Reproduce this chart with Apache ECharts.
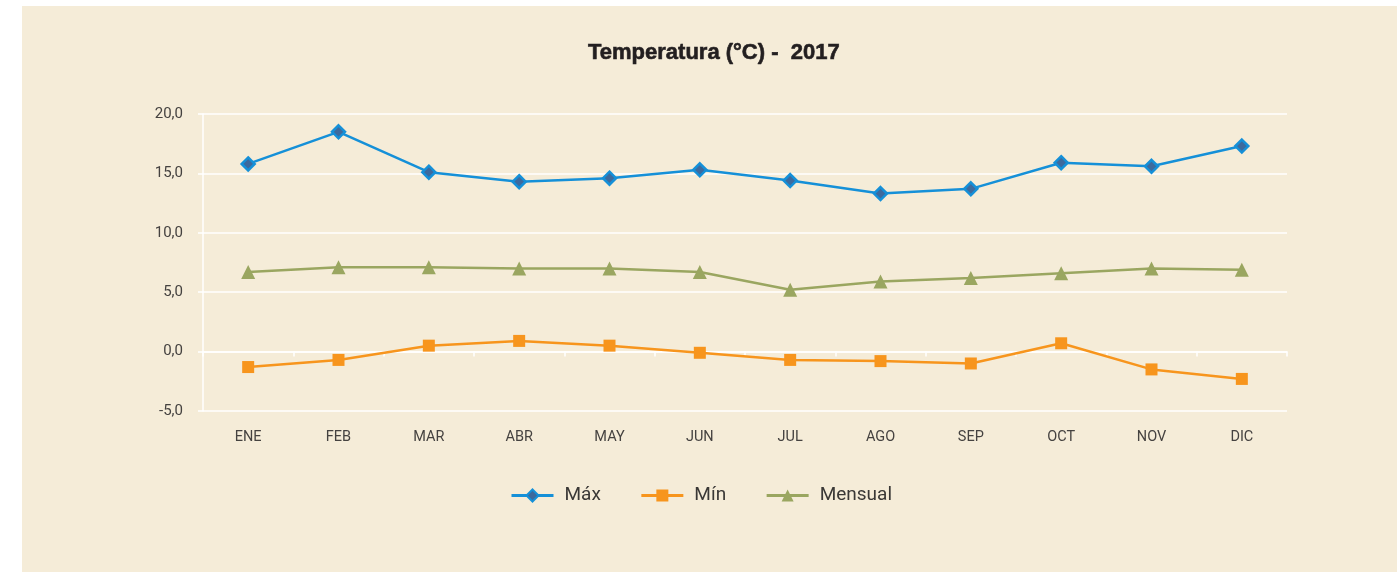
<!DOCTYPE html>
<html>
<head>
<meta charset="utf-8">
<script src="https://cdn.jsdelivr.net/npm/echarts@6/dist/echarts.min.js"></script>
<style>
  html, body { margin: 0; padding: 0; background: #ffffff; }
  #main {
    position: absolute;
    left: 22px; top: 6px;
    width: 1375px; height: 566px;
    background: #f5ecd8;
  }
</style>
</head>
<body>
<div id="main"></div>
<script>
// meses
const months = ['ENE', 'FEB', 'MAR', 'ABR', 'MAY', 'JUN', 'JUL', 'AGO', 'SEP', 'OCT', 'NOV', 'DIC']
// temperaturas 2017
const tMax = [15.8, 18.5, 15.1, 14.3, 14.6, 15.3, 14.4, 13.3, 13.7, 15.9, 15.6, 17.3]
const tMin = [-1.3, -0.7, 0.5, 0.9, 0.5, -0.1, -0.7, -0.8, -1.0, 0.7, -1.5, -2.3]
const tMensual = [6.7, 7.1, 7.1, 7.0, 7.0, 6.7, 5.2, 5.9, 6.2, 6.6, 7.0, 6.9]

const font = 'Roboto, "Liberation Sans", sans-serif'

const myChart = echarts.init(document.querySelector('#main'))
myChart.setOption({
  animation: false,
  title: {
    text: 'Temperatura (°C) -  2017',
    left: 561,
    top: 31,
    textStyle: {
      fontFamily: '"Liberation Sans", Arial, sans-serif',
      fontSize: 22,
      fontWeight: 'bold',
      color: '#231f20',
      textBorderColor: '#231f20',
      textBorderWidth: 0.6
    }
  },
  legend: {
    left: 483,
    top: 475,
    itemWidth: 42,
    itemHeight: 15,
    itemGap: 39,
    lineStyle: { width: 3 },
    textStyle: { fontFamily: font, fontSize: 19, color: '#3a3836', padding: [0, 0, 0, 6] },
    data: ['Máx', 'Mín', 'Mensual']
  },
  grid: { left: 181, right: 110, top: 108, bottom: 161 },
  xAxis: [
    {
      // etiquetas abajo
      type: 'category',
      data: months,
      position: 'bottom',
      axisLine: { show: false, onZero: false },
      axisTick: { show: false },
      axisLabel: { margin: 19, fontFamily: font, fontSize: 14.5, color: '#454240' }
    },
    {
      // línea en el cero con marcas
      type: 'category',
      data: months,
      position: 'bottom',
      axisLine: { show: true, onZero: true, lineStyle: { color: '#ffffff', width: 1.5 } },
      axisTick: { show: true, length: 5, lineStyle: { color: '#ffffff', width: 1.5 } },
      axisLabel: { show: false }
    }
  ],
  yAxis: {
    type: 'value',
    min: -5,
    max: 20,
    interval: 5,
    axisLine: { show: true, lineStyle: { color: '#ffffff', width: 1.5 } },
    axisTick: { show: true, length: 5, lineStyle: { color: '#ffffff', width: 1.5 } },
    axisLabel: {
      margin: 20,
      fontFamily: font,
      fontSize: 15,
      color: '#454240',
      formatter: v => v.toFixed(1).replace('.', ',')
    },
    splitLine: { lineStyle: { color: '#ffffff', width: 1.5 } }
  },
  series: [
    {
      name: 'Máx',
      type: 'line',
      data: tMax,
      symbol: 'diamond',
      symbolSize: 13,
      lineStyle: { color: '#1590d8', width: 2.5 },
      itemStyle: { color: '#3d6a9e', borderColor: '#1590d8', borderWidth: 2.5 }
    },
    {
      name: 'Mín',
      type: 'line',
      data: tMin,
      symbol: 'rect',
      symbolSize: 12,
      lineStyle: { color: '#f7951d', width: 2.5 },
      itemStyle: { color: '#f7951d' }
    },
    {
      name: 'Mensual',
      type: 'line',
      data: tMensual,
      symbol: 'triangle',
      symbolSize: 14,
      lineStyle: { color: '#9aa660', width: 2.5 },
      itemStyle: { color: '#9aa660' }
    }
  ]
})
</script>
</body>
</html>
